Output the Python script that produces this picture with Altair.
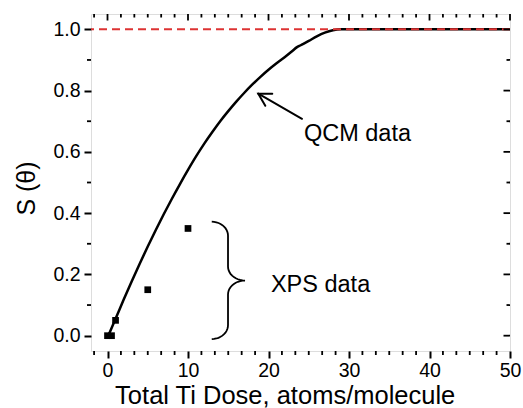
import altair as alt
import pandas as pd
import numpy as np

# ---------------- data ----------------
qcm_x = [0.1, 1, 2, 3, 4, 5, 6, 7, 8, 9, 10, 11, 12, 13, 14, 15, 16, 17, 18,
         19, 20, 21, 22, 23, 23.5, 24, 25, 26, 27, 28, 29, 50]
qcm_y = [0.0, 0.055, 0.117, 0.177, 0.235, 0.291, 0.345, 0.397, 0.447, 0.495,
         0.541, 0.585, 0.626, 0.664, 0.700, 0.733, 0.764, 0.793, 0.820, 0.845,
         0.868, 0.889, 0.909, 0.930, 0.941, 0.948, 0.962, 0.977, 0.989, 0.997,
         1.0, 1.0]
xps_x = [0, 0.5, 1, 5, 10]
xps_y = [0.0, 0.0, 0.05, 0.15, 0.35]
x_major = [0, 10, 20, 30, 40, 50]
y_major = [0.0, 0.2, 0.4, 0.6, 0.8, 1.0]
ref_level = [1.0]
qcm_label = "QCM data"
xps_label = "XPS data"
x_title = "Total Ti Dose, atoms/molecule"
y_title = "S (\u03b8)"

# ---------------- layout ----------------
W, H = 419, 337
XD = [-2.05, 50.0]
YD = [-0.05, 1.05]
sx = W / (XD[1] - XD[0])
sy = H / (YD[1] - YD[0])
FONT = "Liberation Sans"
RED = "#dd3333"

xs = alt.Scale(domain=XD, nice=False, zero=False)
ys = alt.Scale(domain=YD, nice=False, zero=False)

x_axis = alt.Axis(values=x_major, tickSize=7, tickWidth=2, tickColor="black",
                  domain=False, grid=False, labelFont=FONT, labelFontSize=19.5,
                  labelColor="black", labelPadding=3, labelFlush=False,
                  title=x_title, titleFont=FONT, titleFontSize=25.5,
                  titleFontWeight="normal", titleColor="black",
                  titleX=193.7, titleY=52, titleAlign="center",
                  titleBaseline="alphabetic")
y_axis = alt.Axis(values=y_major, format=".1f", tickSize=7, tickWidth=2,
                  tickColor="black", domain=False, grid=False, labelFont=FONT,
                  labelFontSize=19.5, labelColor="black", labelPadding=4,
                  labelFlush=False,
                  title=y_title, titleFont=FONT, titleFontSize=25,
                  titleFontWeight="normal", titleColor="black",
                  titleAngle=270, titleX=-64.5, titleY=174,
                  titleAlign="center", titleBaseline="middle")

qcm_df = pd.DataFrame({"x": qcm_x, "y": qcm_y})
xps_df = pd.DataFrame({"x": xps_x, "y": xps_y})

curve = alt.Chart(qcm_df).mark_line(color="black", strokeWidth=2.5,
                                    interpolate="monotone").encode(
    x=alt.X("x:Q", scale=xs, axis=x_axis),
    y=alt.Y("y:Q", scale=ys, axis=y_axis),
)

squares = alt.Chart(xps_df).mark_point(shape="square", filled=True, size=45,
                                       color="black", opacity=1).encode(
    x=alt.X("x:Q", scale=xs), y=alt.Y("y:Q", scale=ys))

ref = alt.Chart(pd.DataFrame({"y": ref_level})).mark_rule(
    color=RED, strokeWidth=2, strokeDash=[8, 5]).encode(y=alt.Y("y:Q", scale=ys))

# ---- arrow (annotation) ----
tail = (24.16, 0.708)
tip = (18.73, 0.79)
dxp = (tail[0] - tip[0]) * sx
dyp = -(tail[1] - tip[1]) * sy
L = np.hypot(dxp, dyp)
ux, uy = dxp / L, dyp / L
rows = [dict(seg="shaft", o=0, x=tail[0], y=tail[1]),
        dict(seg="shaft", o=1, x=tip[0], y=tip[1])]
hl = 14
pts = []
for a in [np.radians(30), np.radians(-30)]:
    rx = ux * np.cos(a) - uy * np.sin(a)
    ry = ux * np.sin(a) + uy * np.cos(a)
    pts.append((tip[0] + hl * rx / sx, tip[1] - hl * ry / sy))
rows += [dict(seg="head", o=0, x=pts[0][0], y=pts[0][1]),
         dict(seg="head", o=1, x=tip[0], y=tip[1]),
         dict(seg="head", o=2, x=pts[1][0], y=pts[1][1])]
arrow = alt.Chart(pd.DataFrame(rows)).mark_line(
    color="black", strokeWidth=2, strokeCap="round", strokeJoin="miter").encode(
    x=alt.X("x:Q", scale=xs), y=alt.Y("y:Q", scale=ys),
    detail="seg:N", order="o:Q")

# ---- brace (annotation) ----
xe, xv, xt = 12.95, 14.97, 17.08
yt, ym, yb = 0.372, 0.18, -0.011
r = 14 / sy
rx1, rx2 = xv - xe, xt - xv
t = np.linspace(0, np.pi / 2, 12)
bx, by = [], []
bx += list(xe + rx1 * np.sin(t)); by += list(yt - r + r * np.cos(t))
bx += list(xt - rx2 * np.cos(t)); by += list(ym + r - r * np.sin(t))
bx += list(xt - rx2 * np.sin(t)); by += list(ym - r + r * np.cos(t))
bx += list(xe + rx1 * np.cos(t)); by += list(yb + r - r * np.sin(t))
brace_df = pd.DataFrame({"x": bx, "y": by, "o": range(len(bx))})
brace = alt.Chart(brace_df).mark_line(color="black", strokeWidth=1.8).encode(
    x=alt.X("x:Q", scale=xs), y=alt.Y("y:Q", scale=ys), order="o:Q")

# ---- labels ----
txt_df = pd.DataFrame({"x": [24.4, 20.3], "y": [0.637, 0.1415],
                       "t": [qcm_label, xps_label]})
texts = alt.Chart(txt_df).mark_text(align="left", baseline="alphabetic",
                                    font=FONT, fontSize=23.5,
                                    color="black").encode(
    x=alt.X("x:Q", scale=xs), y=alt.Y("y:Q", scale=ys), text="t:N")

# ---- minor / mirrored ticks ----
step = 10 / 6
xminor = [k * step for k in range(-1, 31) if k % 6 != 0]
yminor = [round(k * 0.1, 2) for k in range(0, 11) if k % 2 == 1]
xm_df = pd.DataFrame({"v": xminor})
xM_df = pd.DataFrame({"v": x_major})
ym_df = pd.DataFrame({"v": yminor})
yM_df = pd.DataFrame({"v": y_major})
tk = dict(color="black", strokeWidth=1.8)


def vt(df, y0, y1):
    return alt.Chart(df).mark_rule(**tk).encode(
        x=alt.X("v:Q", scale=xs), y=alt.value(y0), y2=alt.value(y1))


def ht(df, x0, x1):
    return alt.Chart(df).mark_rule(**tk).encode(
        y=alt.Y("v:Q", scale=ys), x=alt.value(x0), x2=alt.value(x1))


ticks = [vt(xm_df, H, H + 4), vt(xm_df, 0, 3.5), vt(xM_df, 0, 6.5),
         ht(ym_df, 0, -4), ht(ym_df, W, W - 3.5), ht(yM_df, W, W - 6.5)]

chart = alt.layer(curve, squares, brace, arrow, ref, texts, *ticks).properties(
    width=W, height=H,
    autosize=alt.AutoSizeParams(type="none"),
    padding={"left": 91, "top": 14, "right": 13, "bottom": 57},
).configure_view(stroke="black", strokeWidth=2.2).configure(background="white")

chart.save("out.html", embed_options={"renderer": "svg", "actions": False})
